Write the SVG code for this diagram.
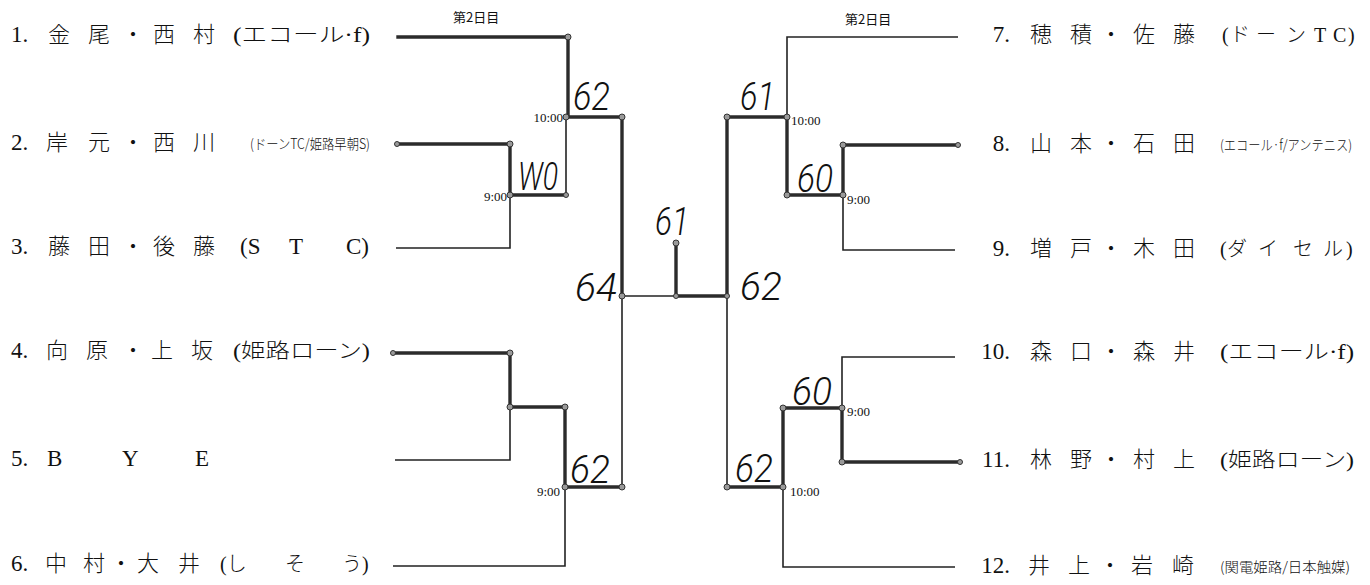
<svg xmlns="http://www.w3.org/2000/svg" width="1370" height="585" viewBox="0 0 1370 585">
<style>
.bg{fill:#fff}
.nm{font-family:"Liberation Serif","Noto Sans CJK JP",serif;font-size:23px;fill:#111}
.cj{font-family:"Noto Sans CJK JP","Liberation Serif",sans-serif;font-size:22px;font-weight:300;fill:#111}
.af{font-family:"Liberation Serif","Noto Sans CJK JP",serif;font-size:20px;font-weight:300;fill:#111}
.afs{font-family:"Noto Sans CJK JP","Liberation Serif",sans-serif;font-size:14px;font-weight:300;fill:#111}
.tm{font-family:"Liberation Serif",serif;font-size:13px;fill:#111}
.day{font-family:"Noto Sans CJK JP",sans-serif;font-size:13px;fill:#111}
.hw{font-family:Roboto,"DejaVu Sans",sans-serif;font-style:italic;font-weight:300;font-size:38px;fill:#111}
.thin{stroke:#222;stroke-width:1.6;fill:none}
.thick{stroke:#2b2b2b;stroke-width:3.4;fill:none;stroke-linecap:square}
.dot{fill:#9a9a9a;stroke:#333;stroke-width:1}
</style>
<rect class="bg" x="0" y="0" width="1370" height="585"/>

<g id="day-labels">
<text class="day" x="453" y="22">第2日目</text>
<text class="day" x="845" y="24">第2日目</text>
</g>

<!-- left players -->
<g id="p1">
<text class="nm" x="11" y="42">1.</text>
<text class="cj" x="48 88 122 153 193" y="42">金尾・西村</text>
<text class="af" x="233" y="42" textLength="137" lengthAdjust="spacingAndGlyphs">(エコール·f)</text>
</g>
<g id="p2">
<text class="nm" x="11" y="150">2.</text>
<text class="cj" x="46 88 122 153 193" y="150">岸元・西川</text>
<text class="afs" x="250" y="149" textLength="120" lengthAdjust="spacingAndGlyphs">(ドーンTC/姫路早朝S)</text>
</g>
<g id="p3">
<text class="nm" x="11" y="254">3.</text>
<text class="cj" x="48 88 122 153 193" y="254">藤田・後藤</text>
<text class="nm" y="254"><tspan x="240">(S</tspan> <tspan x="289">T</tspan> <tspan x="346">C)</tspan></text>
</g>
<g id="p4">
<text class="nm" x="11" y="358">4.</text>
<text class="cj" x="46 86 122 151 191" y="358">向原・上坂</text>
<text class="af" x="233" y="358" textLength="137" lengthAdjust="spacingAndGlyphs">(姫路ローン)</text>
</g>
<g id="p5">
<text class="nm" x="11" y="466">5.</text>
<text class="nm" x="47 122 195" y="466">BYE</text>
</g>
<g id="p6">
<text class="nm" x="11" y="571">6.</text>
<text class="cj" x="45 83 110 137 178" y="571">中村・大井</text>
<text class="af" y="571"><tspan x="220">(し</tspan> <tspan x="285">そ</tspan> <tspan x="342">う)</tspan></text>
</g>

<!-- right players -->
<g id="p7">
<text class="nm" x="1010" y="42" text-anchor="end">7.</text>
<text class="cj" x="1030 1070 1100 1133 1173" y="42">穂積・佐藤</text>
<text class="af" x="1222 1230 1256 1286 1314 1333 1348" y="42">(ドーンTC)</text>
</g>
<g id="p8">
<text class="nm" x="1010" y="151" text-anchor="end">8.</text>
<text class="cj" x="1030 1070 1100 1133 1173" y="151">山本・石田</text>
<text class="afs" x="1220" y="150" textLength="132" lengthAdjust="spacingAndGlyphs">(エコール·f/アンテニス)</text>
</g>
<g id="p9">
<text class="nm" x="1010" y="256" text-anchor="end">9.</text>
<text class="cj" x="1030 1070 1100 1133 1173" y="256">増戸・木田</text>
<text class="af" x="1220 1227 1258 1293 1323 1346" y="256">(ダイセル)</text>
</g>
<g id="p10">
<text class="nm" x="1010" y="359" text-anchor="end">10.</text>
<text class="cj" x="1030 1070 1100 1133 1173" y="359">森口・森井</text>
<text class="af" x="1220" y="359" textLength="134" lengthAdjust="spacingAndGlyphs">(エコール·f)</text>
</g>
<g id="p11">
<text class="nm" x="1010" y="467" text-anchor="end">11.</text>
<text class="cj" x="1030 1070 1100 1133 1173" y="467">林野・村上</text>
<text class="af" x="1220" y="467" textLength="134" lengthAdjust="spacingAndGlyphs">(姫路ローン)</text>
</g>
<g id="p12">
<text class="nm" x="1010" y="573" text-anchor="end">12.</text>
<text class="cj" x="1028 1068 1099 1131 1172" y="573">井上・岩崎</text>
<text class="afs" x="1220" y="572" textLength="130" lengthAdjust="spacingAndGlyphs">(関電姫路/日本触媒)</text>
</g>

<g id="connectors">
<path class="thin" d="M510 195V248H396"/>
<path class="thin" d="M566 117V195"/>
<path class="thin" d="M622 296V487"/>
<path class="thin" d="M510 407V460H395"/>
<path class="thin" d="M565 487V566H393"/>
<path class="thin" d="M622 296H674"/>
<path class="thin" d="M727 296V487"/>
<path class="thin" d="M958 37H787V117"/>
<path class="thin" d="M843 195V250H955"/>
<path class="thin" d="M955 357H842V408"/>
<path class="thin" d="M783 487V567H955"/>
<path class="thick" d="M398 37H568V117H622V296"/>
<path class="thick" d="M397 144H510V195H566"/>
<path class="thick" d="M393 353H510V407H565V487H622"/>
<path class="thick" d="M676 243V296H727V117H787V195H843V145H958"/>
<path class="thick" d="M727 487H783V408H842V462H960"/>
<g>
<circle class="dot" cx="568" cy="37" r="3"/>
<circle class="dot" cx="566" cy="117" r="3"/>
<circle class="dot" cx="622" cy="117" r="3"/>
<circle class="dot" cx="397" cy="144" r="2.5"/>
<circle class="dot" cx="510" cy="144" r="3"/>
<circle class="dot" cx="510" cy="195" r="3"/>
<circle class="dot" cx="566" cy="195" r="2.5"/>
<circle class="dot" cx="622" cy="296" r="3"/>
<circle class="dot" cx="393" cy="353" r="2.5"/>
<circle class="dot" cx="510" cy="353" r="3"/>
<circle class="dot" cx="510" cy="407" r="3"/>
<circle class="dot" cx="565" cy="407" r="3"/>
<circle class="dot" cx="565" cy="487" r="3"/>
<circle class="dot" cx="622" cy="487" r="3"/>
<circle class="dot" cx="676" cy="243" r="3"/>
<circle class="dot" cx="676" cy="296" r="2.5"/>
<circle class="dot" cx="727" cy="296" r="2.5"/>
<circle class="dot" cx="727" cy="117" r="3"/>
<circle class="dot" cx="787" cy="117" r="3"/>
<circle class="dot" cx="787" cy="195" r="3"/>
<circle class="dot" cx="843" cy="195" r="3"/>
<circle class="dot" cx="843" cy="145" r="3"/>
<circle class="dot" cx="958" cy="145" r="2.5"/>
<circle class="dot" cx="842" cy="408" r="3"/>
<circle class="dot" cx="842" cy="462" r="3"/>
<circle class="dot" cx="960" cy="462" r="2.5"/>
<circle class="dot" cx="783" cy="408" r="3"/>
<circle class="dot" cx="783" cy="487" r="3"/>
<circle class="dot" cx="727" cy="487" r="3"/>
</g>
</g>

<g id="times">
<text class="tm" x="563" y="122" text-anchor="end">10:00</text>
<text class="tm" x="507" y="201" text-anchor="end">9:00</text>
<text class="tm" x="560" y="496" text-anchor="end">9:00</text>
<text class="tm" x="791" y="125">10:00</text>
<text class="tm" x="847" y="204">9:00</text>
<text class="tm" x="847" y="416">9:00</text>
<text class="tm" x="790" y="496">10:00</text>
</g>

<g id="scores">
<text class="hw" x="573" y="110" textLength="37" lengthAdjust="spacingAndGlyphs">62</text>
<text class="hw" x="518" y="190" textLength="40" lengthAdjust="spacingAndGlyphs">W0</text>
<text class="hw" x="570" y="483" textLength="40" lengthAdjust="spacingAndGlyphs">62</text>
<text class="hw" x="575" y="301" textLength="42" lengthAdjust="spacingAndGlyphs">64</text>
<text class="hw" x="655" y="235" textLength="34" lengthAdjust="spacingAndGlyphs">61</text>
<text class="hw" x="740" y="300" textLength="42" lengthAdjust="spacingAndGlyphs">62</text>
<text class="hw" x="740" y="110" textLength="35" lengthAdjust="spacingAndGlyphs">61</text>
<text class="hw" x="797" y="192" textLength="36" lengthAdjust="spacingAndGlyphs">60</text>
<text class="hw" x="792" y="405" textLength="40" lengthAdjust="spacingAndGlyphs">60</text>
<text class="hw" x="735" y="482" textLength="38" lengthAdjust="spacingAndGlyphs">62</text>
</g>
</svg>
